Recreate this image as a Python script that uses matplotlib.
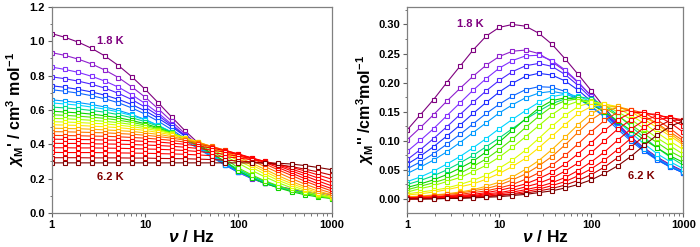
import matplotlib
matplotlib.use('Agg')
import matplotlib.pyplot as plt
from matplotlib.colors import LinearSegmentedColormap
from matplotlib.ticker import LogLocator, NullFormatter, MultipleLocator, FormatStrFormatter

plt.rcParams['font.family'] = ['Liberation Sans', 'DejaVu Sans']
plt.rcParams['font.weight'] = 'bold'
plt.rcParams['mathtext.fontset'] = 'custom'
plt.rcParams['mathtext.rm'] = 'Liberation Sans:bold'
plt.rcParams['mathtext.it'] = 'Liberation Sans:italic:bold'
plt.rcParams['mathtext.bf'] = 'Liberation Sans:bold'

# frequencies (Hz)
freq = [1, 1.39, 1.93, 2.68, 3.73, 5.18, 7.2, 10, 13.9, 19.3, 26.8, 37.3,
        51.8, 72, 100, 139, 193, 268, 373, 518, 720, 1000]

# temperatures (K), 1.8 .. 6.2
temps = [1.8, 2.0, 2.2, 2.4, 2.6, 2.8, 3.0, 3.2, 3.4, 3.6, 3.8, 4.0,
         4.2, 4.4, 4.6, 4.8, 5.0, 5.2, 5.4, 5.6, 5.8, 6.0, 6.2]

# in-phase susceptibility, one row per temperature
chi_real = [
    [1.045, 1.023, .995, .959, .914, .859, .794, .721, .641, .559, .479, .406, .341, .286, .242, .205, .177, .155, .139, .125, .115, .107],
    [.934, .918, .896, .868, .832, .789, .735, .675, .606, .534, .462, .393, .333, .279, .236, .200, .172, .150, .134, .120, .110, .103],
    [.850, .836, .819, .796, .768, .733, .689, .638, .581, .517, .453, .389, .332, .281, .237, .202, .174, .151, .134, .120, .109, .102],
    [.793, .782, .768, .750, .727, .697, .661, .617, .567, .510, .451, .391, .334, .284, .240, .204, .174, .151, .133, .119, .108, .100],
    [.741, .732, .720, .705, .686, .662, .632, .595, .551, .502, .447, .393, .338, .289, .245, .208, .178, .154, .135, .120, .108, .099],
    [.718, .709, .698, .683, .665, .642, .612, .576, .534, .486, .434, .381, .329, .281, .239, .203, .173, .150, .132, .117, .106, .097],
    [.659, .652, .643, .632, .617, .598, .574, .545, .509, .468, .422, .374, .325, .279, .238, .202, .173, .149, .130, .115, .104, .095],
    [.641, .635, .628, .617, .605, .588, .568, .542, .510, .472, .430, .384, .336, .290, .248, .210, .178, .152, .132, .115, .103, .092],
    [.617, .612, .606, .597, .587, .573, .555, .532, .505, .471, .433, .389, .344, .298, .254, .216, .182, .155, .132, .114, .100, .090],
    [.593, .588, .583, .576, .566, .555, .539, .520, .496, .466, .431, .392, .348, .300, .245, .205, .172, .146, .124, .106, .093, .084],
    [.572, .569, .564, .558, .551, .541, .528, .512, .491, .466, .435, .400, .359, .317, .262, .222, .187, .158, .134, .114, .098, .085],
    [.551, .549, .545, .540, .534, .526, .516, .502, .486, .464, .438, .407, .371, .331, .290, .248, .210, .176, .146, .123, .103, .088],
    [.532, .530, .527, .523, .519, .512, .503, .492, .479, .461, .439, .412, .381, .345, .305, .266, .226, .190, .159, .132, .110, .092],
    [.514, .512, .510, .506, .502, .497, .490, .481, .469, .455, .436, .414, .386, .354, .317, .279, .241, .203, .171, .142, .118, .098],
    [.494, .492, .491, .488, .484, .480, .475, .467, .458, .445, .430, .411, .387, .358, .326, .290, .254, .217, .183, .153, .127, .106],
    [.474, .473, .471, .469, .467, .463, .459, .453, .445, .436, .424, .408, .389, .365, .337, .305, .270, .235, .200, .168, .140, .116],
    [.452, .451, .450, .448, .447, .444, .440, .436, .430, .423, .413, .401, .386, .366, .343, .316, .285, .251, .218, .185, .156, .128],
    [.430, .429, .428, .427, .425, .424, .421, .417, .413, .407, .400, .390, .378, .363, .344, .321, .294, .264, .232, .200, .169, .142],
    [.406, .405, .405, .403, .402, .401, .399, .396, .393, .389, .383, .376, .366, .355, .340, .321, .300, .274, .245, .216, .186, .158],
    [.380, .380, .379, .379, .378, .377, .375, .373, .371, .368, .364, .358, .351, .342, .331, .317, .300, .279, .256, .230, .203, .176],
    [.353, .352, .352, .352, .351, .350, .349, .348, .346, .344, .342, .338, .334, .328, .320, .311, .299, .284, .265, .245, .221, .197],
    [.322, .322, .322, .321, .321, .321, .320, .320, .318, .317, .316, .314, .311, .308, .303, .298, .290, .281, .270, .255, .239, .220],
    [.292, .292, .292, .292, .292, .292, .292, .292, .292, .292, .292, .292, .292, .292, .292, .292, .291, .290, .285, .276, .265, .252],
]

# out-of-phase susceptibility, one row per temperature
chi_imag = [
    [.119, .145, .171, .200, .228, .256, .280, .295, .300, .297, .285, .266, .241, .214, .186, .157, .130, .107, .088, .072, .059, .048],
    [.102, .123, .145, .168, .190, .211, .230, .245, .254, .256, .250, .236, .220, .200, .177, .153, .128, .106, .087, .071, .058, .047],
    [.082, .101, .121, .143, .165, .187, .207, .225, .238, .246, .247, .238, .222, .201, .177, .152, .127, .105, .086, .070, .057, .046],
    [.068, .085, .104, .124, .145, .166, .186, .204, .219, .229, .233, .228, .214, .195, .173, .150, .126, .104, .085, .069, .056, .045],
    [.060, .074, .090, .108, .127, .147, .166, .184, .199, .211, .216, .213, .203, .187, .168, .147, .124, .103, .084, .068, .055, .045],
    [.052, .064, .078, .094, .111, .129, .147, .163, .177, .188, .193, .192, .185, .173, .158, .141, .120, .100, .082, .067, .055, .045],
    [.044, .055, .067, .081, .097, .114, .131, .148, .162, .174, .182, .185, .181, .172, .159, .143, .124, .104, .086, .070, .057, .046],
    [.030, .038, .048, .060, .073, .088, .104, .121, .137, .152, .166, .176, .180, .177, .167, .152, .134, .114, .095, .078, .064, .052],
    [.025, .032, .040, .050, .062, .075, .090, .105, .121, .137, .151, .164, .172, .176, .172, .161, .145, .125, .106, .088, .072, .058],
    [.020, .026, .033, .042, .053, .065, .081, .098, .118, .138, .156, .169, .174, .171, .162, .150, .134, .118, .102, .088, .074, .063],
    [.016, .022, .028, .035, .044, .056, .069, .085, .103, .123, .142, .159, .169, .172, .167, .157, .143, .128, .112, .097, .082, .070],
    [.012, .018, .023, .030, .037, .047, .058, .072, .089, .107, .126, .145, .160, .168, .168, .161, .150, .137, .121, .105, .091, .077],
    [.009, .012, .015, .019, .025, .032, .041, .053, .067, .084, .104, .125, .144, .159, .166, .164, .156, .144, .130, .114, .099, .085],
    [.007, .009, .012, .016, .021, .026, .034, .044, .056, .070, .088, .108, .128, .147, .159, .163, .159, .150, .137, .123, .108, .093],
    [.004, .005, .007, .009, .012, .016, .022, .029, .038, .051, .066, .085, .106, .128, .147, .158, .159, .153, .142, .128, .112, .096],
    [.003, .004, .006, .008, .010, .014, .018, .024, .033, .043, .057, .073, .093, .115, .136, .151, .157, .153, .143, .130, .115, .100],
    [.002, .003, .004, .006, .008, .011, .014, .019, .025, .034, .045, .058, .075, .095, .116, .135, .149, .153, .148, .136, .121, .104],
    [.002, .003, .003, .005, .006, .008, .011, .015, .020, .026, .035, .046, .060, .078, .097, .118, .136, .148, .149, .143, .131, .115],
    [.001, .002, .003, .004, .005, .006, .009, .011, .015, .021, .027, .036, .048, .062, .080, .100, .120, .136, .146, .146, .137, .126],
    [.001, .001, .002, .003, .004, .005, .007, .009, .012, .016, .021, .028, .037, .049, .064, .081, .101, .120, .135, .143, .141, .132],
    [.000, .001, .001, .002, .003, .004, .005, .007, .009, .013, .017, .023, .030, .040, .052, .067, .085, .104, .123, .136, .140, .136],
    [.000, .000, .001, .001, .002, .003, .004, .006, .008, .010, .014, .018, .024, .032, .042, .055, .071, .089, .108, .124, .135, .136],
    [.000, .000, .000, .001, .001, .002, .003, .004, .006, .008, .011, .014, .019, .025, .033, .044, .057, .073, .092, .110, .125, .134],
]

rainbow = LinearSegmentedColormap.from_list('rb', [
    (0.00, '#7f007f'), (0.07, '#9933ff'), (0.17, '#2020ff'),
    (0.27, '#0099ff'), (0.33, '#00e5ff'), (0.40, '#00d000'),
    (0.50, '#99ff00'), (0.57, '#ffff00'), (0.64, '#ffb000'),
    (0.71, '#ff5000'), (0.77, '#ff0000'), (0.92, '#ff0000'),
    (0.96, '#c00000'), (1.00, '#800000')])
n = len(temps)
colors = [rainbow(k / (n - 1)) for k in range(n)]

fig = plt.figure(figsize=(7, 2.47), dpi=100)
ax1 = fig.add_axes([0.0739, 0.1377, 0.400, 0.834])
ax2 = fig.add_axes([0.5819, 0.1377, 0.3943, 0.834])

for k in range(n):
    for ax, data in ((ax1, chi_real), (ax2, chi_imag)):
        ax.plot(freq, data[k], '-s', color=colors[k], lw=0.8, ms=3.5,
                mew=0.8, mfc='white', mec=colors[k])

for ax in (ax1, ax2):
    ax.set_xscale('log')
    ax.set_xlim(1, 1000)
    ax.set_xticks([1, 10, 100, 1000])
    ax.set_xticklabels(['1', '10', '100', '1000'])
    ax.xaxis.set_minor_locator(LogLocator(base=10, subs=range(2, 10)))
    ax.xaxis.set_minor_formatter(NullFormatter())
    for s in ax.spines.values():
        s.set_color('#808080')
        s.set_linewidth(0.9)
    ax.tick_params(which='both', direction='out', color='#606060',
                   labelsize=8, pad=2, top=False, right=False)
    ax.tick_params(which='major', length=3, width=0.8)
    ax.tick_params(which='minor', length=1.8, width=0.6)
    ax.set_xlabel(r'$\nu$ / Hz', fontsize=12.5, fontweight='bold', labelpad=-1)

ax1.set_ylim(0, 1.2)
ax1.yaxis.set_major_locator(MultipleLocator(0.2))
ax1.yaxis.set_minor_locator(MultipleLocator(0.1))
ax1.yaxis.set_major_formatter(FormatStrFormatter('%.1f'))
ax1.set_ylabel(r"$\chi_\mathbf{M}$' / cm$^\mathbf{3}$ mol$^\mathbf{-1}$",
               fontsize=11.5, fontweight='bold', labelpad=2)

ax2.set_ylim(-0.024, 0.33)
ax2.yaxis.set_major_locator(MultipleLocator(0.05))
ax2.yaxis.set_minor_locator(MultipleLocator(0.025))
ax2.yaxis.set_major_formatter(FormatStrFormatter('%.2f'))
ax2.set_ylabel(r"$\chi_\mathbf{M}$'' /cm$^\mathbf{3}$mol$^\mathbf{-1}$",
               fontsize=11.5, fontweight='bold', labelpad=2)

ax1.text(4.2, 1.0, '1.8 K', color='#7f007f', fontsize=8,
         fontweight='bold', ha='center', va='center')
ax1.text(4.2, 0.21, '6.2 K', color='#800000', fontsize=8,
         fontweight='bold', ha='center', va='center')
ax2.text(4.8, 0.30, '1.8 K', color='#7f007f', fontsize=8,
         fontweight='bold', ha='center', va='center')
ax2.text(350, 0.040, '6.2 K', color='#800000', fontsize=8,
         fontweight='bold', ha='center', va='center')

fig.savefig('out.png', dpi=100)
